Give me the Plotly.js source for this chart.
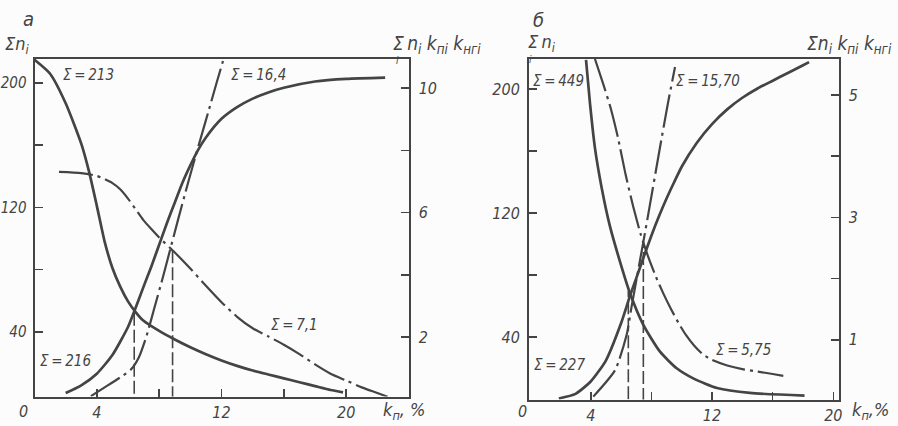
<!DOCTYPE html>
<html>
<head>
<meta charset="utf-8">
<script src="https://cdn.plot.ly/plotly-3.0.1.min.js"></script>
<style>html,body{margin:0;padding:0;background:#fcfcfc}#chart{width:898px;height:426px}</style>
</head>
<body>
<div id="chart"></div>
<script>
// ---------- Panel а ----------
const a_decSolid_x = [0, 1, 2, 3, 3.5, 4, 4.5, 5, 5.5, 6, 6.5, 7, 8, 9, 10, 11, 12, 13, 14, 15, 16, 17, 18, 19, 19.8];
const a_decSolid_y = [215, 206, 187, 161, 143, 121, 98, 81, 69, 59.5, 52.5, 47, 40.5, 35, 30, 25.5, 21.5, 18, 15, 12.5, 10, 7.5, 5, 2.5, 1];
const a_incSolid_x = [2, 3, 4, 5, 6, 6.4, 7, 7.5, 8, 8.5, 9, 9.5, 10, 10.5, 11, 12, 13, 14, 15, 16, 18, 20, 22.5];
const a_incSolid_y = [0.5, 5.5, 13, 25, 43, 53, 69, 82, 96, 110, 123, 136, 147, 157, 165, 177, 184.5, 190, 194, 197, 201, 202.7, 203.5];
const a_decDash_x = [1.57, 3, 4, 5, 5.5, 6, 6.5, 7, 7.5, 8, 9, 10, 11, 12, 13, 14, 15, 16, 17, 18, 19, 20, 21, 22, 22.66];
const a_decDash_y = [7.31, 7.27, 7.18, 6.95, 6.75, 6.45, 6.1, 5.75, 5.47, 5.2, 4.72, 4.2, 3.65, 3.12, 2.65, 2.28, 2.02, 1.75, 1.45, 1.12, 0.82, 0.6, 0.38, 0.2, 0.08];
const a_incDash_x = [3.62, 4.5, 5.5, 6.2, 6.7, 7.2, 7.7, 8.2, 8.7, 9.2, 9.7, 10.2, 10.7, 11.2, 11.7, 12.2];
const a_incDash_y = [0.1, 0.38, 0.7, 0.96, 1.35, 2.05, 2.95, 3.85, 4.8, 5.75, 6.68, 7.58, 8.45, 9.32, 10.2, 11.05];
const a_vline1_x = [6.4, 6.4], a_vline1_y = [0, 53];     // left axis
const a_vline2_x = [8.86, 8.86], a_vline2_y = [0, 4.9];  // right axis

// ---------- Panel б ----------
const b_decSolid_x = [3.69, 3.96, 4.28, 4.73, 5.27, 5.93, 6.59, 7.47, 8.57, 9.67, 10.76, 12.33, 14.5, 18.1];
const b_decSolid_y = [219, 190, 162, 136, 111.5, 88.8, 68.4, 48, 30.7, 20, 13.5, 7.3, 4.1, 2.4];
const b_incSolid_x = [1.9, 3, 4, 5, 6, 6.6, 7, 7.5, 8, 8.5, 9, 9.5, 10, 11, 12, 13, 14, 15, 16, 17, 18, 18.4];
const b_incSolid_y = [0.5, 3.5, 11.5, 25, 49, 67, 78, 92, 105.5, 118, 129.5, 140, 150, 165.5, 177.5, 187, 194.5, 200.5, 205.5, 210.5, 215.5, 217.5];
const b_decDash_x = [4.28, 4.8, 5.3, 5.8, 6.3, 6.8, 7.3, 7.8, 8.3, 8.8, 9.3, 9.8, 10.3, 10.8, 11.4, 12, 13, 14, 15, 16, 16.7];
const b_decDash_y = [5.59, 5.2, 4.8, 4.3, 3.7, 3.18, 2.72, 2.35, 2.03, 1.75, 1.5, 1.27, 1.07, 0.91, 0.76, 0.67, 0.58, 0.52, 0.48, 0.44, 0.41];
const b_incDash_x = [4.17, 5.6, 6.37, 6.7, 7.03, 7.47, 7.9, 8.5, 9.08, 9.56];
const b_incDash_y = [0.07, 0.5, 1.08, 1.55, 2.0, 2.6, 3.2, 4.05, 4.85, 5.46];
const b_vline1_x = [6.48, 6.48], b_vline1_y = [0, 70];   // left axis
const b_vline2_x = [7.47, 7.47], b_vline2_y = [0, 2.6];  // right axis

// ---------- ticks ----------
const a_xticks = [4, 12, 20], a_xminor = [8, 16];
const a_yLticks = [40, 120, 200], a_yLminor = [80, 160];
const a_yRticks = [2, 6, 10], a_yRminor = [4, 8];
const b_xticks = [4, 12, 20], b_xminor = [8, 16];
const b_yLticks = [40, 120, 200], b_yLminor = [80, 160];
const b_yRticks = [1, 3, 5], b_yRminor = [2, 4];

const INK = '#444444';
const FONT = 'DejaVu Sans Condensed, Liberation Sans Narrow, Roboto Condensed, sans-serif';
const W = 898, H = 426;
const PX = v => v / W, PY = v => 1 - v / H;

const solid = {color: INK, width: 2.7, shape: 'spline', smoothing: 0.6};
const dashdot = {color: INK, width: 2.2, shape: 'spline', smoothing: 0.6, dash: '34px,5px,3px,5px'};
const dashed = {color: INK, width: 1.6, dash: '13px,4px'};

function tr(x, y, xa, ya, line) {
  return {x: x, y: y, xaxis: xa, yaxis: ya, mode: 'lines', line: line, hoverinfo: 'skip', showlegend: false};
}

const data = [
  tr(a_decSolid_x, a_decSolid_y, 'x', 'y', solid),
  tr(a_incSolid_x, a_incSolid_y, 'x', 'y', solid),
  tr(a_decDash_x, a_decDash_y, 'x', 'y2', dashdot),
  tr(a_incDash_x, a_incDash_y, 'x', 'y2', dashdot),
  tr(a_vline1_x, a_vline1_y, 'x', 'y', dashed),
  tr(a_vline2_x, a_vline2_y, 'x', 'y2', dashed),
  tr(b_decSolid_x, b_decSolid_y, 'x2', 'y3', solid),
  tr(b_incSolid_x, b_incSolid_y, 'x2', 'y3', solid),
  tr(b_decDash_x, b_decDash_y, 'x2', 'y4', dashdot),
  tr(b_incDash_x, b_incDash_y, 'x2', 'y4', dashdot),
  tr(b_vline1_x, b_vline1_y, 'x2', 'y3', dashed),
  tr(b_vline2_x, b_vline2_y, 'x2', 'y4', dashed)
];

function tf(size) { return {family: FONT, size: size, color: INK, style: 'italic'}; }
function axis(extra, minorVals) {
  return Object.assign({
    showgrid: false, zeroline: false, showline: true, linecolor: INK, linewidth: 2,
    ticks: 'inside', ticklen: 8, tickwidth: 1.6, tickcolor: INK,
    tickmode: 'array', tickfont: tf(16), fixedrange: true,
    minor: {tickmode: 'array', tickvals: minorVals, ticks: 'inside', ticklen: 8, tickwidth: 1.6, tickcolor: INK, showgrid: false}
  }, extra);
}

const xaDom = [34.5 / W, 408.5 / W], yaDom = [PY(396.5), PY(59)];
const xbDom = [529 / W, 838.5 / W], ybDom = [PY(399.5), PY(59)];

const layout = {
  width: W, height: H,
  margin: {l: 0, r: 0, t: 0, b: 0},
  paper_bgcolor: '#fcfcfc', plot_bgcolor: 'rgba(0,0,0,0)',
  showlegend: false,
  xaxis: axis({domain: xaDom, range: [0, 24], anchor: 'y', mirror: true, tickvals: a_xticks}, a_xminor),
  yaxis: axis({domain: yaDom, range: [-1.7, 215.5], anchor: 'x', tickvals: a_yLticks, ticklabelstandoff: 3, tickfont: tf(15)}, a_yLminor),
  yaxis2: axis({domain: yaDom, range: [0.087, 10.94], anchor: 'x', overlaying: 'y', side: 'right', tickvals: a_yRticks, ticklabelstandoff: 5}, a_yRminor),
  xaxis2: axis({domain: xbDom, range: [-0.07, 20.34], anchor: 'y3', mirror: true, tickvals: b_xticks}, b_xminor),
  yaxis3: axis({domain: ybDom, range: [-0.13, 219.5], anchor: 'x2', tickvals: b_yLticks, ticklabelstandoff: 4}, b_yLminor),
  yaxis4: axis({domain: ybDom, range: [0.023, 5.59], anchor: 'x2', overlaying: 'y3', side: 'right', tickvals: b_yRticks, ticklabelstandoff: 5}, b_yRminor),
  annotations: []
};

function note(text, x, y, size, xanchor) {
  layout.annotations.push({
    text: text, xref: 'paper', yref: 'paper', x: PX(x), y: PY(y),
    xanchor: xanchor || 'center', yanchor: 'middle', showarrow: false,
    font: tf(size || 14)
  });
}

const T = '\u2009';
// panel letters
note('а', 28, 19, 20);
note('б', 538, 20, 20);
// origin labels
note('0', 23, 411, 16);
note('0', 522, 411, 16);
// y titles
note('Σn<sub>i</sub>', 3, 45, 18, 'left');
note('Σ' + T + 'n<sub>i</sub> k<sub>пi</sub> k<sub>нгi</sub>', 391, 45, 19, 'left');
note('i', 394, 61, 10, 'left');
note('Σ' + T + 'n<sub>i</sub>', 526, 43, 18, 'left');
note('i', 527, 59, 10, 'left');
note('Σn<sub>i</sub> k<sub>пi</sub> k<sub>нгi</sub>', 805, 45, 19, 'left');
// x titles
note('k<sub>п</sub>, %', 381, 411, 18, 'left');
note('k<sub>п</sub>,%', 850, 411, 18, 'left');
// sums
note('Σ' + T + '=' + T + '213', 88, 75, 15);
note('Σ' + T + '=' + T + '16,4', 258, 75, 15);
note('Σ' + T + '=' + T + '216', 65, 361, 15);
note('Σ' + T + '=' + T + '7,1', 294, 325, 15);
note('Σ' + T + '=' + T + '449', 558, 81, 15);
note('Σ' + T + '=' + T + '15,70', 708, 81, 15);
note('Σ' + T + '=' + T + '227', 559, 365, 15);
note('Σ' + T + '=' + T + '5,75', 743, 350, 15);

Plotly.newPlot('chart', data, layout, {staticPlot: true, displayModeBar: false});
</script>
</body>
</html>
